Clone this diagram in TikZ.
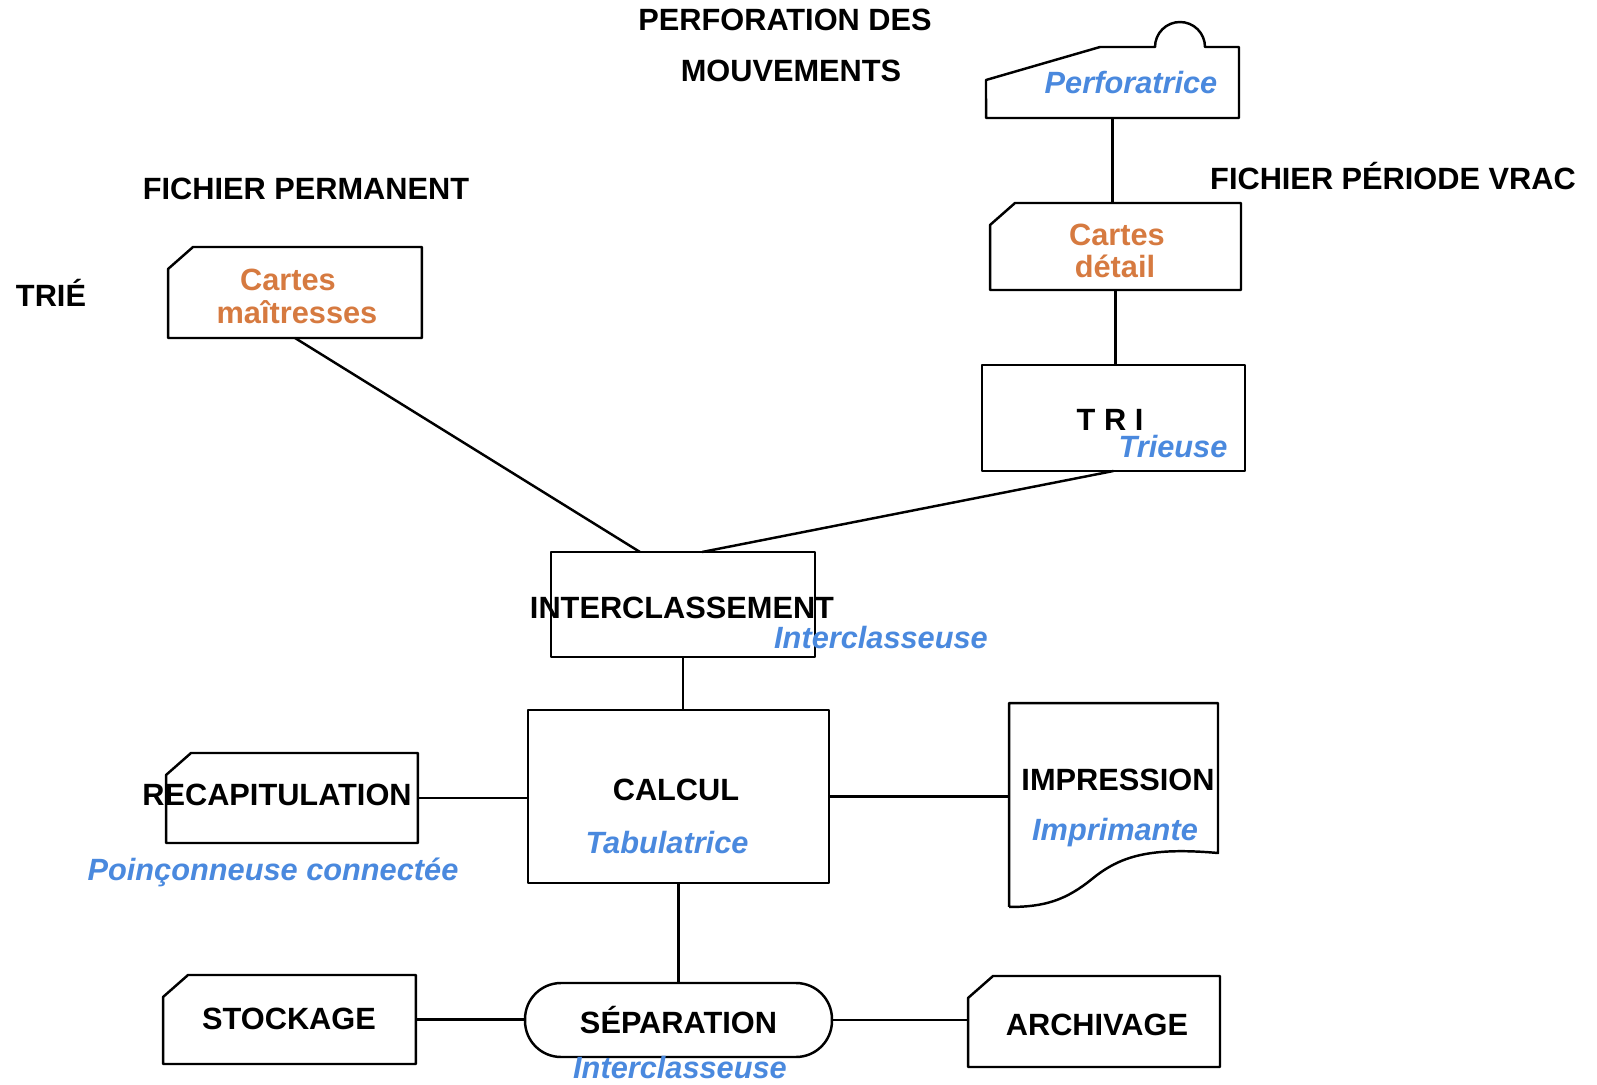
\documentclass[tikz,border=0pt]{standalone}
\usepackage{fontspec}
\setmainfont{Liberation Sans}
\usepackage{tikz}
\usetikzlibrary{positioning}
\usepackage{xcolor}

\definecolor{bleu}{RGB}{74,137,222}
\definecolor{orangec}{RGB}{214,122,64}

\tikzset{
	trait/.style={line width=1.4pt, line join=round},
	boite/.style={inner sep=0pt, outer sep=0pt},
	titre/.style={font=\bfseries\fontsize{17.5}{20}\selectfont},
	machine/.style={text=bleu, font=\bfseries\itshape\fontsize{17.5}{20}\selectfont},
	support/.style={text=orangec, font=\bfseries\fontsize{17.5}{20}\selectfont},
}

% carte perforee : rectangle au coin coupe
\newcommand{\carte}[1]{\draw[trait] ([yshift=-0.44cm]#1.north west) -- ([xshift=0.5cm]#1.north west) -- (#1.north east) -- (#1.south east) -- (#1.south west) -- cycle;}

\begin{document}
\begin{tikzpicture}[x=0.02cm, y=-0.02cm] % chaine de traitement par cartes
	
	\useasboundingbox (0,0) rectangle (1597,1085);
	
	%boites
	\node[boite, minimum width=5.06cm, minimum height=1.42cm] (perfo) at (1112.5,82.5) {};
	\node[boite, minimum width=5.08cm, minimum height=1.82cm] (maitres) at (295,292.5) {};
	\node[boite, minimum width=5.02cm, minimum height=1.74cm] (detail) at (1115.5,246.5) {};
	\node[boite, draw, trait, minimum width=5.26cm, minimum height=2.12cm] (tri) at (1113.5,418) {};
	\node[boite, draw, trait, minimum width=5.28cm, minimum height=2.1cm] (interc) at (683,604.5) {};
	\node[boite, draw, trait, minimum width=6.02cm, minimum height=3.46cm] (calcul) at (678.5,796.5) {};
	\node[boite, minimum width=5.04cm, minimum height=1.8cm] (recap) at (292,798) {};
	\node[boite, minimum width=4.18cm, minimum height=4.08cm] (impr) at (1113.5,805) {};
	\node[boite, draw, trait, rounded corners=0.72cm, minimum width=6.14cm, minimum height=1.48cm] (separ) at (678.5,1020) {};
	\node[boite, minimum width=5.06cm, minimum height=1.78cm] (stock) at (289.5,1019.5) {};
	\node[boite, minimum width=5.04cm, minimum height=1.82cm] (archiv) at (1094,1021.5) {};
	
	%contours
	\draw[trait] (perfo.south west) -- (perfo.south east) -- (perfo.north east) -- (1205,47)
		arc[start angle=0, end angle=180, radius=0.5cm] -- (1100,47) -- (986,80) -- cycle;
	\carte{maitres}
	\carte{detail}
	\carte{recap}
	\carte{stock}
	\carte{archiv}
	\draw[trait] (impr.south west) -- (impr.north west) -- (impr.north east) -- (1218,853)
		.. controls (1150,847) and (1120,856) .. (1092,879)
		.. controls (1066,900) and (1045,907) .. (impr.south west);
	
	%liaisons
	\draw[trait] (perfo.south) -- (perfo.south |- detail.north);
	\draw[trait] (detail.south) -- (detail.south |- tri.north);
	\draw[trait] (maitres.south) -- ([xshift=-0.86cm]interc.north);
	\draw[trait] (tri.south) -- ([xshift=0.38cm]interc.north);
	\draw[trait] (interc.south) -- (interc.south |- calcul.north);
	\draw[trait] (recap.east) -- (recap.east -| calcul.west);
	\draw[trait] (calcul.east) -- (calcul.east -| impr.west);
	\draw[trait] (calcul.south) -- (calcul.south |- separ.north);
	\draw[trait] (stock.east) -- (stock.east -| separ.west);
	\draw[trait] (separ.east) -- (separ.east -| archiv.west);
	
	%labels
	\node[titre] (l-perf1) at (785,20) {PERFORATION DES};
	\node[titre] (l-perf2) at (791,71) {MOUVEMENTS};
	\node[titre] (l-fperm) at (306,189) {FICHIER PERMANENT};
	\node[titre] (l-trie) at (51,293) {TRIÉ};
	\node[titre] (l-fvrac) at (1393,176) {FICHIER PÉRIODE VRAC};
	
	\node[machine] (m-perfo) at (1131,83) {Perforatrice};
	\node[support] (s-maitres1) at (288,280) {Cartes};
	\node[support] (s-maitres2) at (297,312) {maîtresses};
	\node[support] (s-detail1) at (1117,235) {Cartes};
	\node[support] (s-detail2) at (1115,266) {détail};
	
	\node[titre] (t-tri) at (1110,420) {T R I};
	\node[machine] (m-tri) at (1173,447) {Trieuse};
	\node[titre] (t-interc) at (682,608) {INTERCLASSEMENT};
	\node[machine] (m-interc) at (881,638) {Interclasseuse};
	\node[titre] (t-calcul) at (676,790) {CALCUL};
	\node[machine] (m-calcul) at (667,843) {Tabulatrice};
	\node[titre] (t-recap) at (277,795) {RECAPITULATION};
	\node[machine] (m-recap) at (273,872) {Poinçonneuse connectée};
	\node[titre] (t-impr) at (1118,780) {IMPRESSION};
	\node[machine] (m-impr) at (1115,833) {Imprimante};
	\node[titre] (t-separ) at (separ) {SÉPARATION};
	\node[machine] (m-separ) at (680,1068) {Interclasseuse};
	\node[titre] (t-stock) at (289,1019) {STOCKAGE};
	\node[titre] (t-archiv) at (1097,1025) {ARCHIVAGE};
	
\end{tikzpicture}
\end{document}
